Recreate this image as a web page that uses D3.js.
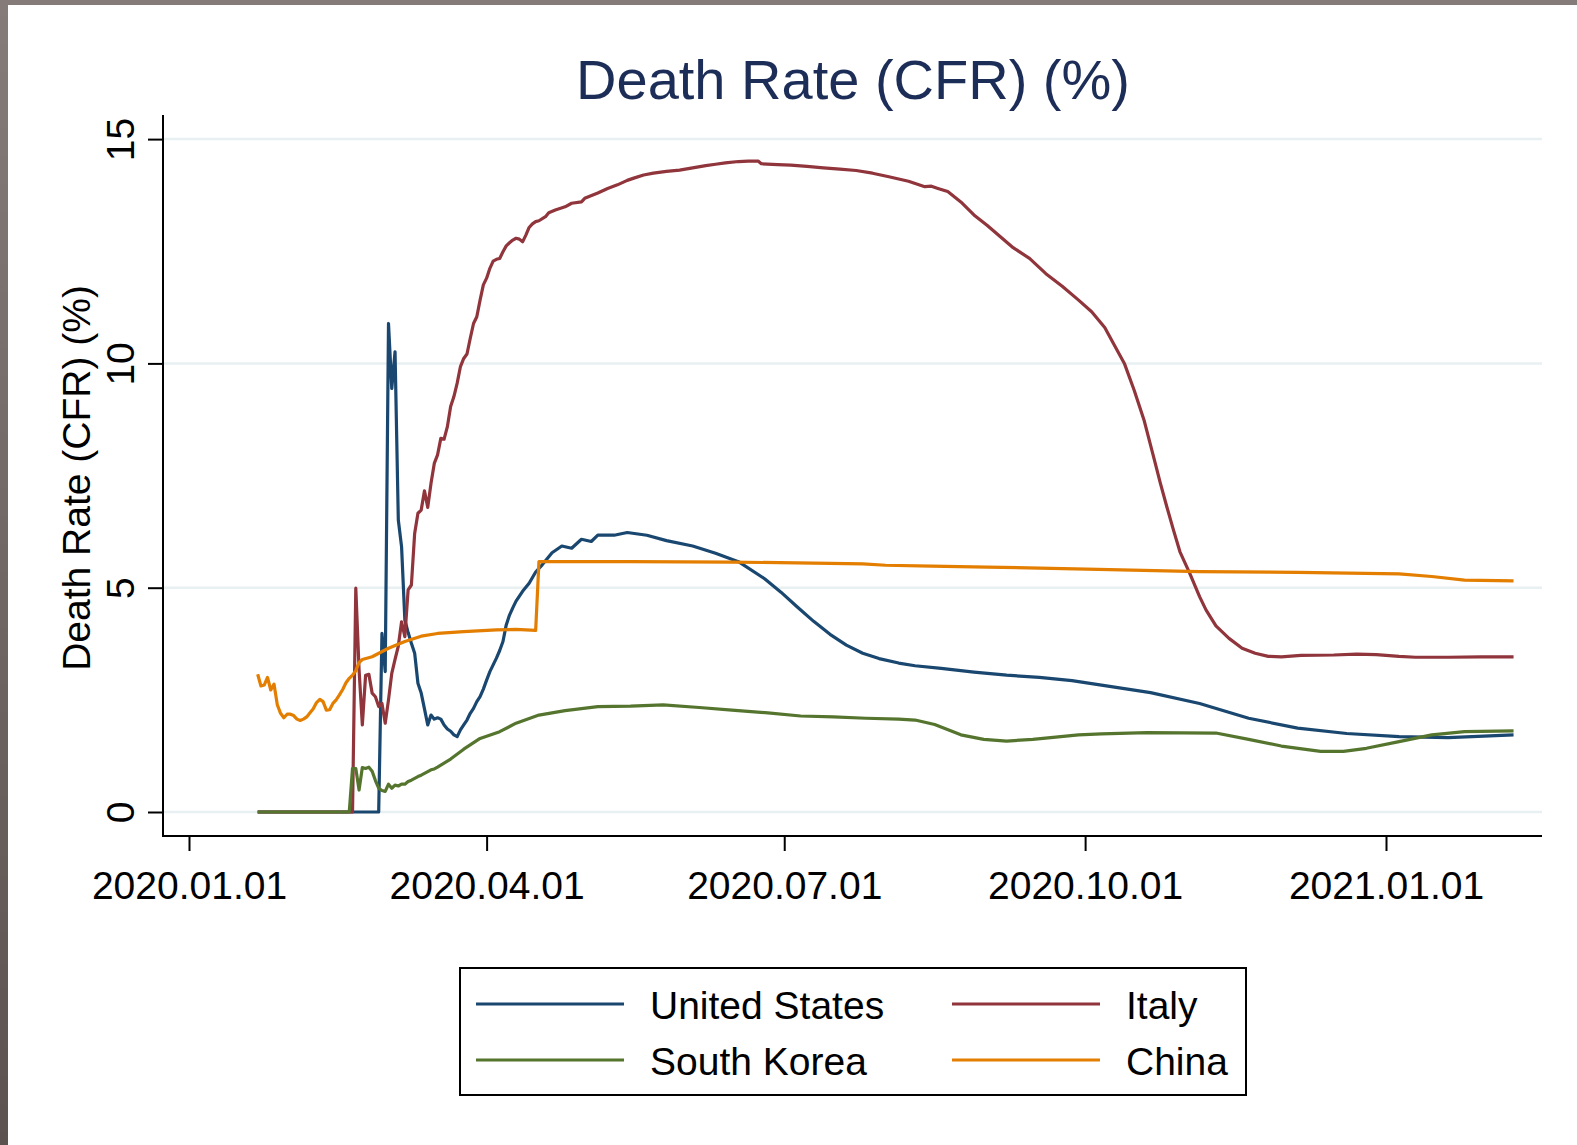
<!DOCTYPE html>
<html>
<head>
<meta charset="utf-8">
<script src="https://cdn.jsdelivr.net/npm/d3@7/dist/d3.min.js"></script>
<style>
html, body { margin: 0; padding: 0; }
body { width: 1577px; height: 1145px; overflow: hidden; }
svg { display: block; font-family: "Liberation Sans", Arial, sans-serif; }
</style>
</head>
<body>
<svg width="1577" height="1145"></svg>
<script>
// country series: [date, CFR %]
var unitedStates = [
  ["2020-01-22", 0], ["2020-02-28", 0], ["2020-02-29", 3.98], ["2020-03-01", 3.13],
  ["2020-03-02", 10.89], ["2020-03-03", 9.44], ["2020-03-04", 10.26], ["2020-03-05", 6.51],
  ["2020-03-06", 5.91], ["2020-03-07", 4.28], ["2020-03-08", 4.0], ["2020-03-09", 3.76],
  ["2020-03-10", 3.54], ["2020-03-11", 2.87], ["2020-03-12", 2.65], ["2020-03-13", 2.3],
  ["2020-03-14", 1.94], ["2020-03-15", 2.16], ["2020-03-16", 2.07], ["2020-03-17", 2.1],
  ["2020-03-18", 2.07], ["2020-03-19", 1.94], ["2020-03-20", 1.85], ["2020-03-21", 1.8],
  ["2020-03-22", 1.72], ["2020-03-23", 1.68], ["2020-03-24", 1.83], ["2020-03-25", 1.94],
  ["2020-03-26", 2.05], ["2020-03-27", 2.2], ["2020-03-28", 2.31], ["2020-03-29", 2.46],
  ["2020-03-30", 2.57], ["2020-03-31", 2.74], ["2020-04-01", 2.94], ["2020-04-02", 3.13],
  ["2020-04-03", 3.28], ["2020-04-04", 3.43], ["2020-04-05", 3.6], ["2020-04-06", 3.8],
  ["2020-04-07", 4.17], ["2020-04-08", 4.39], ["2020-04-09", 4.55], ["2020-04-10", 4.7],
  ["2020-04-12", 4.92], ["2020-04-14", 5.1], ["2020-04-16", 5.35], ["2020-04-18", 5.51],
  ["2020-04-21", 5.78], ["2020-04-24", 5.93], ["2020-04-27", 5.88], ["2020-04-30", 6.08],
  ["2020-05-03", 6.03], ["2020-05-05", 6.17], ["2020-05-10", 6.17], ["2020-05-14", 6.23],
  ["2020-05-20", 6.17], ["2020-05-26", 6.05], ["2020-06-03", 5.93], ["2020-06-10", 5.77],
  ["2020-06-17", 5.58], ["2020-06-25", 5.2], ["2020-06-30", 4.9], ["2020-07-05", 4.57],
  ["2020-07-10", 4.25], ["2020-07-15", 3.96], ["2020-07-20", 3.72], ["2020-07-25", 3.54],
  ["2020-07-30", 3.42], ["2020-08-05", 3.32], ["2020-08-10", 3.26], ["2020-08-18", 3.2],
  ["2020-08-28", 3.12], ["2020-09-07", 3.05], ["2020-09-17", 3.0], ["2020-09-27", 2.93],
  ["2020-10-06", 2.83], ["2020-10-21", 2.66], ["2020-11-05", 2.42], ["2020-11-20", 2.09],
  ["2020-12-05", 1.87], ["2020-12-20", 1.75], ["2021-01-05", 1.68], ["2021-01-20", 1.66],
  ["2021-02-09", 1.72]
];

var italy = [
  ["2020-01-22", 0], ["2020-02-20", 0], ["2020-02-21", 4.99], ["2020-02-22", 3.17],
  ["2020-02-23", 1.94], ["2020-02-24", 3.05], ["2020-02-25", 3.07], ["2020-02-26", 2.65],
  ["2020-02-27", 2.57], ["2020-02-28", 2.35], ["2020-02-29", 2.42], ["2020-03-01", 1.98],
  ["2020-03-02", 2.5], ["2020-03-03", 3.09], ["2020-03-04", 3.4], ["2020-03-05", 3.7],
  ["2020-03-06", 4.24], ["2020-03-07", 3.91], ["2020-03-08", 4.95], ["2020-03-09", 5.06],
  ["2020-03-10", 6.21], ["2020-03-11", 6.66], ["2020-03-12", 6.73], ["2020-03-13", 7.16],
  ["2020-03-14", 6.79], ["2020-03-15", 7.33], ["2020-03-16", 7.77], ["2020-03-17", 7.96],
  ["2020-03-18", 8.33], ["2020-03-19", 8.31], ["2020-03-20", 8.59], ["2020-03-21", 9.04],
  ["2020-03-22", 9.26], ["2020-03-23", 9.56], ["2020-03-24", 9.93], ["2020-03-25", 10.11],
  ["2020-03-26", 10.21], ["2020-03-27", 10.56], ["2020-03-28", 10.89], ["2020-03-29", 11.04],
  ["2020-03-30", 11.41], ["2020-03-31", 11.75], ["2020-04-01", 11.9], ["2020-04-02", 12.12],
  ["2020-04-03", 12.28], ["2020-04-04", 12.32], ["2020-04-05", 12.34], ["2020-04-06", 12.49],
  ["2020-04-07", 12.62], ["2020-04-08", 12.69], ["2020-04-09", 12.75], ["2020-04-10", 12.79],
  ["2020-04-11", 12.77], ["2020-04-12", 12.71], ["2020-04-13", 12.86], ["2020-04-14", 13.03],
  ["2020-04-15", 13.11], ["2020-04-16", 13.16], ["2020-04-17", 13.18], ["2020-04-19", 13.27],
  ["2020-04-20", 13.36], ["2020-04-22", 13.42], ["2020-04-25", 13.49], ["2020-04-27", 13.57],
  ["2020-04-30", 13.6], ["2020-05-01", 13.68], ["2020-05-05", 13.8], ["2020-05-08", 13.9],
  ["2020-05-11", 13.98], ["2020-05-14", 14.08], ["2020-05-16", 14.13], ["2020-05-19", 14.2],
  ["2020-05-22", 14.24], ["2020-05-26", 14.28], ["2020-05-30", 14.31], ["2020-06-03", 14.36],
  ["2020-06-07", 14.41], ["2020-06-10", 14.44], ["2020-06-13", 14.47], ["2020-06-17", 14.5],
  ["2020-06-20", 14.51], ["2020-06-23", 14.51], ["2020-06-24", 14.45], ["2020-06-29", 14.43],
  ["2020-07-03", 14.42], ["2020-07-08", 14.39], ["2020-07-13", 14.36], ["2020-07-18", 14.33],
  ["2020-07-23", 14.3], ["2020-07-28", 14.24], ["2020-08-02", 14.16], ["2020-08-08", 14.06],
  ["2020-08-13", 13.94], ["2020-08-15", 13.95], ["2020-08-17", 13.9], ["2020-08-20", 13.83],
  ["2020-08-24", 13.6], ["2020-08-28", 13.31], ["2020-09-01", 13.08], ["2020-09-05", 12.83],
  ["2020-09-09", 12.58], ["2020-09-14", 12.34], ["2020-09-19", 12.0], ["2020-09-24", 11.72],
  ["2020-09-29", 11.41], ["2020-10-03", 11.15], ["2020-10-07", 10.8], ["2020-10-10", 10.4],
  ["2020-10-13", 10.0], ["2020-10-16", 9.4], ["2020-10-19", 8.74], ["2020-10-22", 7.9],
  ["2020-10-24", 7.33], ["2020-10-26", 6.8], ["2020-10-28", 6.29], ["2020-10-30", 5.8],
  ["2020-11-02", 5.32], ["2020-11-05", 4.8], ["2020-11-07", 4.5], ["2020-11-10", 4.15],
  ["2020-11-14", 3.87], ["2020-11-18", 3.65], ["2020-11-22", 3.54], ["2020-11-26", 3.47],
  ["2020-11-30", 3.46], ["2020-12-06", 3.49], ["2020-12-16", 3.5], ["2020-12-23", 3.52],
  ["2020-12-29", 3.51], ["2021-01-05", 3.47], ["2021-01-10", 3.45], ["2021-01-20", 3.45],
  ["2021-01-30", 3.46], ["2021-02-09", 3.46]
];

var southKorea = [
  ["2020-01-22", 0], ["2020-02-19", 0], ["2020-02-20", 0.97], ["2020-02-21", 0.97],
  ["2020-02-22", 0.49], ["2020-02-23", 0.99], ["2020-02-24", 0.97], ["2020-02-25", 1.0],
  ["2020-02-26", 0.91], ["2020-02-27", 0.7], ["2020-02-28", 0.53], ["2020-02-29", 0.48],
  ["2020-03-01", 0.46], ["2020-03-02", 0.62], ["2020-03-03", 0.53], ["2020-03-04", 0.6],
  ["2020-03-05", 0.58], ["2020-03-06", 0.62], ["2020-03-07", 0.62], ["2020-03-08", 0.68],
  ["2020-03-09", 0.71], ["2020-03-10", 0.75], ["2020-03-11", 0.79], ["2020-03-12", 0.82],
  ["2020-03-13", 0.86], ["2020-03-14", 0.9], ["2020-03-15", 0.94], ["2020-03-16", 0.96],
  ["2020-03-17", 1.0], ["2020-03-21", 1.18], ["2020-03-25", 1.4], ["2020-03-30", 1.64],
  ["2020-04-05", 1.79], ["2020-04-10", 1.98], ["2020-04-17", 2.16], ["2020-04-25", 2.26],
  ["2020-05-05", 2.35], ["2020-05-15", 2.36], ["2020-05-25", 2.39], ["2020-06-05", 2.33],
  ["2020-06-15", 2.27], ["2020-06-26", 2.21], ["2020-07-06", 2.14], ["2020-07-16", 2.12],
  ["2020-07-26", 2.09], ["2020-08-05", 2.07], ["2020-08-10", 2.05], ["2020-08-16", 1.95],
  ["2020-08-24", 1.72], ["2020-08-31", 1.62], ["2020-09-07", 1.58], ["2020-09-15", 1.62],
  ["2020-09-22", 1.67], ["2020-09-29", 1.72], ["2020-10-06", 1.74], ["2020-10-20", 1.77],
  ["2020-11-10", 1.76], ["2020-11-20", 1.62], ["2020-11-30", 1.47], ["2020-12-12", 1.35],
  ["2020-12-19", 1.35], ["2020-12-26", 1.42], ["2021-01-05", 1.57], ["2021-01-15", 1.72],
  ["2021-01-25", 1.79], ["2021-02-09", 1.81]
];

var china = [
  ["2020-01-22", 3.07], ["2020-01-23", 2.81], ["2020-01-24", 2.83], ["2020-01-25", 3.0],
  ["2020-01-26", 2.72], ["2020-01-27", 2.85], ["2020-01-28", 2.39], ["2020-01-29", 2.2],
  ["2020-01-30", 2.1], ["2020-01-31", 2.18], ["2020-02-01", 2.18], ["2020-02-02", 2.15],
  ["2020-02-03", 2.07], ["2020-02-04", 2.04], ["2020-02-05", 2.07], ["2020-02-06", 2.12],
  ["2020-02-07", 2.21], ["2020-02-08", 2.3], ["2020-02-09", 2.44], ["2020-02-10", 2.51],
  ["2020-02-11", 2.46], ["2020-02-12", 2.27], ["2020-02-13", 2.28], ["2020-02-14", 2.42],
  ["2020-02-15", 2.5], ["2020-02-16", 2.61], ["2020-02-17", 2.73], ["2020-02-18", 2.88],
  ["2020-02-19", 2.98], ["2020-02-20", 3.05], ["2020-02-21", 3.15], ["2020-02-22", 3.33],
  ["2020-02-23", 3.4], ["2020-02-26", 3.46], ["2020-03-02", 3.65], ["2020-03-07", 3.8],
  ["2020-03-12", 3.92], ["2020-03-17", 3.98], ["2020-03-25", 4.02], ["2020-04-04", 4.06],
  ["2020-04-10", 4.07], ["2020-04-16", 4.05], ["2020-04-17", 5.58], ["2020-05-15", 5.58],
  ["2020-06-15", 5.57], ["2020-07-10", 5.55], ["2020-07-25", 5.53], ["2020-08-01", 5.5],
  ["2020-08-15", 5.48], ["2020-09-01", 5.46], ["2020-10-05", 5.41], ["2020-11-05", 5.36],
  ["2020-12-05", 5.34], ["2021-01-05", 5.31], ["2021-01-15", 5.25], ["2021-01-25", 5.17],
  ["2021-02-09", 5.15]
];

var countries = ["United States", "Italy", "South Korea", "China"];
var colors = ["#1a476f", "#90353b", "#55752f", "#e37e00"];
var yTicks = [0, 5, 10, 15];
var xTicks = ["2020-01-01", "2020-04-01", "2020-07-01", "2020-10-01", "2021-01-01"];

var parse = d3.utcParse("%Y-%m-%d");
var series = [unitedStates, italy, southKorea, china];

var svg = d3.select("svg");

// grey frame like the screenshot
var grad = svg.append("defs").append("linearGradient")
    .attr("id", "frame").attr("x1", 0).attr("y1", 0).attr("x2", 0).attr("y2", 1);
grad.append("stop").attr("offset", "0%").attr("stop-color", "#857b79");
grad.append("stop").attr("offset", "100%").attr("stop-color", "#5c5250");
svg.append("rect").attr("width", 1577).attr("height", 1145).attr("fill", "url(#frame)");
svg.append("rect").attr("x", 8).attr("y", 5).attr("width", 1569).attr("height", 1140).attr("fill", "#fff");

var plotLeft = 163, plotRight = 1542, plotTop = 115, plotBottom = 836;

var x = d3.scaleUtc()
    .domain([parse("2020-01-01"), parse("2021-01-01")])
    .range([189, 1386]);

var y = d3.scaleLinear()
    .domain([0, 15])
    .range([812, 139.1]);

// grid
svg.append("g").selectAll("line")
    .data(yTicks)
    .enter().append("line")
    .attr("x1", plotLeft).attr("x2", plotRight)
    .attr("y1", function (d) { return y(d); })
    .attr("y2", function (d) { return y(d); })
    .attr("stroke", "#e8f0f2")
    .attr("stroke-width", 2.5);

// title
svg.append("text")
    .attr("x", 853).attr("y", 99)
    .attr("text-anchor", "middle")
    .attr("font-size", 56)
    .attr("fill", "#1c2d57")
    .text("Death Rate (CFR) (%)");

// y axis
var yAxis = svg.append("g")
    .attr("transform", "translate(" + plotLeft + ",0)")
    .call(d3.axisLeft(y).tickValues(yTicks).tickSize(15).tickSizeOuter(0));
yAxis.select(".domain").remove();
yAxis.selectAll("line").attr("stroke", "#000").attr("stroke-width", 2);
yAxis.selectAll("text")
    .attr("x", null).attr("dy", null)
    .attr("transform", "translate(-29,0) rotate(-90)")
    .attr("text-anchor", "middle")
    .attr("font-size", 39)
    .attr("font-family", "Liberation Sans, Arial, sans-serif")
    .attr("fill", "#000");

// x axis
var xAxis = svg.append("g")
    .attr("transform", "translate(0," + plotBottom + ")")
    .call(d3.axisBottom(x)
        .tickValues(xTicks.map(parse))
        .tickFormat(d3.utcFormat("%Y.%m.%d"))
        .tickSize(15).tickSizeOuter(0));
xAxis.select(".domain").remove();
xAxis.selectAll("line").attr("stroke", "#000").attr("stroke-width", 2);
xAxis.selectAll("text")
    .attr("y", 63).attr("dy", null)
    .attr("font-size", 39)
    .attr("font-family", "Liberation Sans, Arial, sans-serif")
    .attr("fill", "#000");

svg.append("line").attr("x1", plotLeft).attr("x2", plotLeft).attr("y1", plotTop).attr("y2", plotBottom + 1)
    .attr("stroke", "#000").attr("stroke-width", 2);
svg.append("line").attr("x1", plotLeft - 1).attr("x2", plotRight).attr("y1", plotBottom).attr("y2", plotBottom)
    .attr("stroke", "#000").attr("stroke-width", 2);

// y title
svg.append("text")
    .attr("transform", "translate(90,478) rotate(-90)")
    .attr("text-anchor", "middle")
    .attr("font-size", 39)
    .text("Death Rate (CFR) (%)");

// lines
var line = d3.line()
    .x(function (d) { return x(parse(d[0])); })
    .y(function (d) { return y(d[1]); });

svg.append("g").selectAll("path")
    .data(series)
    .enter().append("path")
    .attr("d", line)
    .attr("fill", "none")
    .attr("stroke", function (d, i) { return colors[i]; })
    .attr("stroke-width", 3.2)
    .attr("stroke-linejoin", "round");

// legend
var legend = svg.append("g");
legend.append("rect")
    .attr("x", 460).attr("y", 968).attr("width", 786).attr("height", 127)
    .attr("fill", "#fff").attr("stroke", "#000").attr("stroke-width", 2);

var item = legend.selectAll(".item")
    .data(countries)
    .enter().append("g")
    .attr("class", "item")
    .attr("transform", function (d, i) {
        return "translate(" + (i % 2 ? 952 : 476) + "," + (i < 2 ? 1004 : 1060) + ")";
    });
item.append("line")
    .attr("x1", 0).attr("x2", 148)
    .attr("stroke", function (d, i) { return colors[i]; })
    .attr("stroke-width", 3.2);
item.append("text")
    .attr("x", 174).attr("y", 15)
    .attr("font-size", 39)
    .text(function (d) { return d; });
</script>
</body>
</html>
